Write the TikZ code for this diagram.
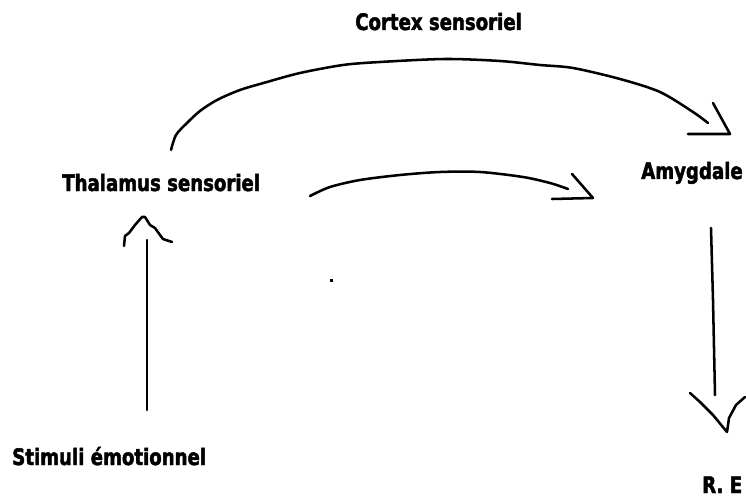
\documentclass[tikz,border=0pt]{standalone}
\usepackage{fontspec}
\newfontfamily\lbl[FakeStretch=0.8,FakeBold=2]{DejaVu Sans}
\begin{document}
\begin{tikzpicture}[x=0.75pt,y=-0.75pt,
  lab/.style={font=\lbl\bfseries\fontsize{17}{19}\selectfont, inner sep=0pt, anchor=base west},
  ln/.style={line width=1.9pt, line cap=round, line join=round}]
\useasboundingbox[fill=white] (0,0) rectangle (746,499);
% labels
\node[lab] (cortex) at (355,30) {Cortex sensoriel};
\node[lab] (thal) at (62,191) {Thalamus sensoriel};
\node[lab] (amyg) at (641,179) {Amygdale};
\node[lab] (stim) at (12,465) {Stimuli émotionnel};
\node[lab] (re) at (702,493) {R. E};
% endpoint coordinates
\coordinate (a1) at (171,150);
\coordinate (a2) at (708,123);
\coordinate (b1) at (310,196);
\coordinate (b2) at (568,189);
\coordinate (c1) at (147,410);
\coordinate (c2) at (147,240);
\coordinate (d1) at (711,228);
\coordinate (d2) at (715,395);
% big arc thalamus -> cortex -> amygdale
\draw[ln] plot[smooth, tension=0.5] coordinates {(a1) (176,135) (187,123) (200,111) (217,100) (240,90) (267,82) (300,73) (343,65) (380,62) (445,59) (500,61) (540,65) (573,68) (620,79) (660,92) (693,112) (a2)};
\draw[ln] (713,103) -- (730,134) -- (688,134);
% small arc thalamus -> amygdale
\draw[ln] plot[smooth, tension=0.5] coordinates {(b1) (330,187) (360,180) (400,175) (440,172) (480,172) (523,177) (550,183) (b2)};
\draw[ln] (572,174) -- (593,198) -- (552,199);
% up arrow stimuli -> thalamus
\draw[ln] (c1) -- (c2);
\draw[ln] (124,246) -- (125,236) -- (129,233) -- (135,225) -- (142,217) -- (145,217) -- (150,225) -- (155,228) -- (160,235) -- (163,239) -- (172,242);
% down arrow amygdale -> R.E
\draw[ln] (d1) -- (713,300) -- (d2);
\draw[ln] (690,393) -- (700,402) -- (713,415) -- (727,432) -- (729,418) -- (736,405) -- (745,397);
% stray dot
\fill (330,279) rectangle (333,282);
\end{tikzpicture}
\end{document}
